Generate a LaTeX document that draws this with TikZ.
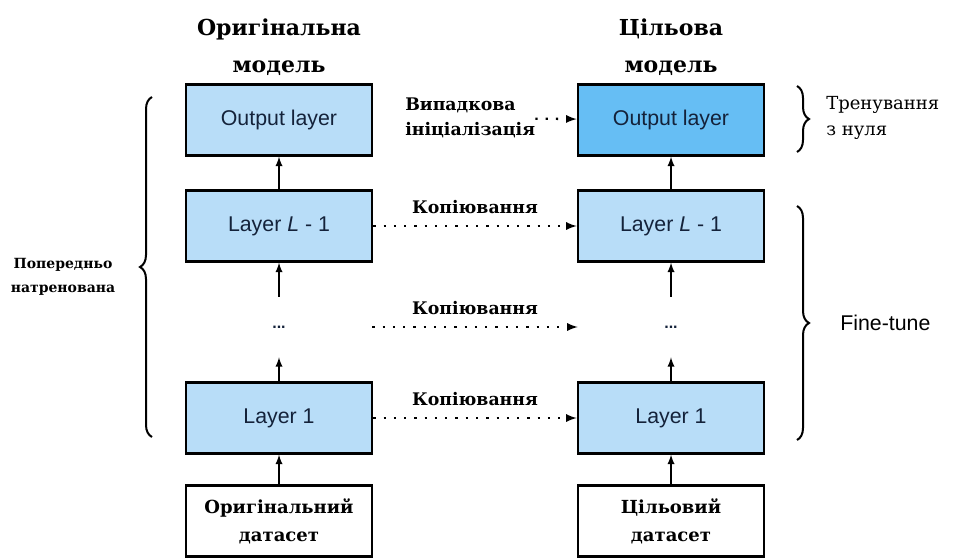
\documentclass[tikz,border=0pt]{standalone}
\usepackage{fontspec}
\setmainfont{DejaVu Serif}
\newfontfamily\boxfont{Liberation Sans}
\usepackage{tikz}
\usetikzlibrary{arrows}
\usetikzlibrary{positioning}
\usetikzlibrary{decorations.pathreplacing}
\definecolor{layerblue}{HTML}{B8DDF8}
\definecolor{outblue}{HTML}{66BEF4}
\definecolor{navy}{HTML}{14223A}

\begin{document}
\begin{tikzpicture}
	[x=0.75pt,y=-0.75pt,every node/.style={inner sep=0pt},
	box/.style={draw,line width=2pt,minimum width=139.5pt,minimum height=53pt},
	layer/.style={box,fill=layerblue,text=navy,font=\boxfont\fontsize{16}{18}\selectfont},
	data/.style={box,fill=white,align=center,font=\bfseries\fontsize{13.5}{21}\selectfont},
	gap/.style={minimum width=139.5pt,minimum height=45pt,text=navy,font=\boxfont\bfseries\fontsize{12}{14}\selectfont},
	title/.style={align=center,font=\bfseries\fontsize{16.5}{27.5}\selectfont},
	note/.style={font=\bfseries\fontsize{13}{19}\selectfont},
	flow/.style={-latex,line width=1.4pt},
	copy/.style={-latex,line width=1.7pt,dash pattern=on 1.7pt off 6pt},
	curly/.style={decorate,decoration={brace,amplitude=9pt},line width=1.5pt}]
	\useasboundingbox (0,0) rectangle (962,557);
	\node[title] (t1) at (279,47) {Оригінальна\\модель};
	\node[title] (t2) at (671,47) {Цільова\\модель};
	\node[layer] (o1) at (279,120) {Output layer};
	\node[layer,fill=outblue] (o2) at (671,120) {Output layer};
	\node[layer] (h1) at (279,226) {Layer {\itshape L} - 1};
	\node[layer] (h2) at (671,226) {Layer {\itshape L} - 1};
	\node[gap] (g1) at (279,327) {...};
	\node[gap] (g2) at (671,327) {...};
	\node[layer] (b1) at (279,418) {Layer 1};
	\node[layer] (b2) at (671,418) {Layer 1};
	\node[data] (s1) at (279,521) {Оригінальний\\датасет};
	\node[data] (s2) at (671,521) {Цільовий\\датасет};
	\node[note,align=left,anchor=west] (init) at (405,118) {Випадкова\\ініціалізація};
	\node[note,align=center,font=\bfseries\fontsize{10.5}{18}\selectfont] (pre) at (63,277) {Попередньо\\натренована};
	\node[note,align=left,anchor=west,font=\fontsize{13.5}{19}\selectfont] (scratch) at (826,118) {Тренування\\з нуля};
	\node[anchor=west,font=\boxfont\fontsize{16}{18}\selectfont] (ft) at (840,323) {Fine-tune};

	\foreach \from/\to in
	{s1/b1, b1/g1, g1/h1, h1/o1, s2/b2, b2/g2, g2/h2, h2/o2}
	\draw[flow] (\from) -- (\to);
	\foreach \from/\to in {h1/h2, g1/g2, b1/b2}
	\draw[copy] (\from) -- node[above=8pt,note] {Копіювання} (\to);
	\draw[copy] (init) -- (o2);

	\draw[curly] (152,437) -- (152,97);
	\draw[curly] (797,86) -- (797,152);
	\draw[curly] (797,206) -- (797,440);
\end{tikzpicture}
\end{document}
